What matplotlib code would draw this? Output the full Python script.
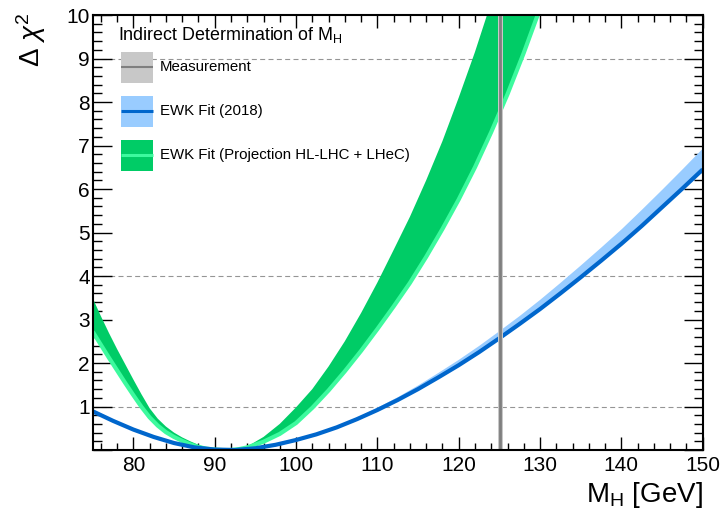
import matplotlib
matplotlib.use("Agg")
import matplotlib.pyplot as plt
from matplotlib.patches import Rectangle
from matplotlib.lines import Line2D
from matplotlib.ticker import MultipleLocator, FixedLocator

plt.rcParams['font.family'] = ['Liberation Sans', 'DejaVu Sans']
plt.rcParams['mathtext.fontset'] = 'custom'
plt.rcParams['mathtext.rm'] = 'Liberation Sans'
plt.rcParams['mathtext.it'] = 'Liberation Sans:italic'

# ---------------- data ----------------
# EWK fit (2018): central curve and upper edge of band
blue_x = [75, 77.5, 80, 82.5, 85, 87.5, 90, 92.5, 95, 97.5, 100, 102.5, 105, 107.5,
          110, 112.5, 115, 117.5, 120, 122.5, 125, 127.5, 130, 132.5, 135, 137.5,
          140, 142.5, 145, 147.5, 150]
blue_center = [0.89, 0.67, 0.47, 0.30, 0.16, 0.06, 0.01, 0.00, 0.04, 0.12, 0.23, 0.36,
               0.52, 0.71, 0.92, 1.15, 1.40, 1.67, 1.95, 2.25, 2.57, 2.90, 3.24, 3.60,
               3.97, 4.35, 4.74, 5.15, 5.58, 6.01, 6.45]
blue_upper = [0.94, 0.71, 0.50, 0.32, 0.17, 0.06, 0.01, 0.00, 0.05, 0.13, 0.25, 0.39,
              0.56, 0.76, 0.99, 1.23, 1.50, 1.79, 2.09, 2.41, 2.75, 3.10, 3.47, 3.86,
              4.26, 4.67, 5.09, 5.54, 6.00, 6.47, 6.95]

# EWK fit projection HL-LHC + LHeC: central curve and upper edge of band
green_x = [75, 76, 77, 78, 79, 80, 81, 82, 83, 84, 85, 86, 87, 88, 89, 90, 91, 92, 93,
           94, 96, 98, 100, 102, 104, 106, 108, 110, 112, 114, 116, 118, 120, 122, 124,
           126, 128, 130]
green_center = [2.72, 2.42, 2.12, 1.83, 1.54, 1.26, 0.99, 0.75, 0.56, 0.41, 0.30, 0.21,
                0.13, 0.07, 0.03, 0.01, 0.00, 0.00, 0.02, 0.06, 0.19, 0.37, 0.62, 0.97,
                1.37, 1.81, 2.28, 2.78, 3.30, 3.84, 4.44, 5.08, 5.76, 6.50, 7.31, 8.18,
                9.13, 10.15]
green_upper = [3.49, 3.08, 2.69, 2.32, 1.97, 1.62, 1.28, 0.96, 0.72, 0.54, 0.40, 0.29,
               0.20, 0.12, 0.06, 0.02, 0.005, 0.00, 0.02, 0.08, 0.30, 0.60, 0.98, 1.40,
               1.92, 2.50, 3.15, 3.85, 4.60, 5.36, 6.20, 7.10, 8.10, 9.15, 10.30, 11.50,
               12.80, 14.10]

# direct measurement
mh_meas = 125.1
mh_err = 0.33

grid_levels = [1, 4, 9]
x_ticks = [80, 90, 100, 110, 120, 130, 140, 150]
y_ticks = [0, 1, 2, 3, 4, 5, 6, 7, 8, 9, 10]
y_ticklabels = ['', '1', '2', '3', '4', '5', '6', '7', '8', '9', '10']

legend_title = "Indirect Determination of M$_{\\rm H}$"
legend_labels = ["Measurement", "EWK Fit (2018)", "EWK Fit (Projection HL-LHC + LHeC)"]

# ---------------- colours ----------------
c_green_dark = '#00cc66'
c_green_light = '#3dfa9e'
c_blue_dark = '#0066cc'
c_blue_light = '#99ccff'
c_gray_dark = '#7f7f7f'
c_gray_light = '#c8c8c8'

# ---------------- figure ----------------
fig = plt.figure(figsize=(7.23, 5.09), dpi=100)
ax = fig.add_axes([0.12822, 0.11591, 0.84371, 0.85462])
ax.set_xlim(75, 150)
ax.set_ylim(0, 10)

for lv in grid_levels:
    ax.axhline(lv, color='#959595', lw=0.8, ls=(0, (4.5, 3)), zorder=1)

ax.fill_between(green_x, green_center, green_upper, color=c_green_dark, lw=0, zorder=2)
ax.plot(green_x, green_center, color=c_green_light, lw=3, zorder=3, solid_capstyle='butt')
ax.fill_between(blue_x, blue_center, blue_upper, color=c_blue_light, lw=0, zorder=4)
ax.plot(blue_x, blue_center, color=c_blue_dark, lw=3, zorder=5, solid_capstyle='butt')
ax.axvspan(mh_meas - mh_err, mh_meas + mh_err, color=c_gray_light, lw=0, zorder=6)
ax.axvline(mh_meas, color=c_gray_dark, lw=2, zorder=7)

# ticks
ax.xaxis.set_major_locator(FixedLocator(x_ticks))
ax.xaxis.set_minor_locator(MultipleLocator(2))
ax.yaxis.set_major_locator(FixedLocator(y_ticks))
ax.yaxis.set_minor_locator(MultipleLocator(0.2))
ax.set_yticklabels(y_ticklabels)
ax.tick_params(axis='both', which='both', direction='in', top=True, right=True,
               labelsize=15, width=1.0, color='black')
ax.tick_params(axis='x', which='major', length=9.4, pad=4)
ax.tick_params(axis='x', which='minor', length=4.8)
ax.tick_params(axis='y', which='major', length=13.7, pad=2)
ax.tick_params(axis='y', which='minor', length=6.8)
for sp in ax.spines.values():
    sp.set_linewidth(1.5)
    sp.set_zorder(10)

# axis labels
fig.text(703 / 723, 1 - 502 / 509, "M$_{\\rm H}$ [GeV]", fontsize=20,
         ha='right', va='baseline')
fig.text(31 / 723, 1 - 13 / 509, "Δ $\\chi^{2}$", fontsize=20, rotation=90,
         ha='center', va='top')

# legend (manual, ROOT style)
def ax_pt(px, py):
    return ((px - 92.7) / 610.0, (450.0 - py) / 435.0)

tx, ty = ax_pt(118, 40)
ax.text(tx, ty, legend_title, transform=ax.transAxes, fontsize=12.9,
        ha='left', va='baseline', zorder=20)

rows = [(51.7, 82.7, c_gray_light, c_gray_dark, 1.5),
        (96.0, 126.7, c_blue_light, c_blue_dark, 2.2),
        (140.0, 170.7, c_green_dark, c_green_light, 2.2)]
for (top, bot, fc, lc, lw), lab in zip(rows, legend_labels):
    x0, y1 = ax_pt(120.7, top)
    x1, y0 = ax_pt(152.7, bot)
    ax.add_patch(Rectangle((x0, y0), x1 - x0, y1 - y0, transform=ax.transAxes,
                           facecolor=fc, edgecolor='none', zorder=20, clip_on=False))
    ym = 0.5 * (y0 + y1)
    ax.add_line(Line2D([x0, x1], [ym, ym], transform=ax.transAxes, color=lc, lw=lw,
                       zorder=21, solid_capstyle='butt'))
    lx, _ = ax_pt(160, 0)
    ax.text(lx, ym, lab, transform=ax.transAxes, fontsize=10.8, ha='left',
            va='center', zorder=21)

fig.savefig("out.png", dpi=100)
